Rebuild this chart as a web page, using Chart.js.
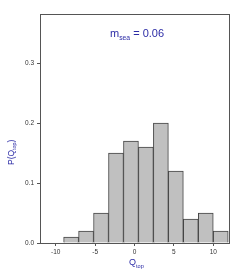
<!DOCTYPE html>
<html>
<head>
<meta charset="utf-8">
<script src="https://cdn.jsdelivr.net/npm/chart.js@4.4.1/dist/chart.umd.min.js"></script>
<style>
  html, body { margin: 0; padding: 0; background: #fff; }
  #chart { display: block; }
</style>
</head>
<body>
<canvas id="chart" width="240" height="273"></canvas>
<script>
// bin centres of the Q_top histogram (bin width 1.9)
const binCentres = [-8.05, -6.15, -4.25, -2.35, -0.45, 1.45, 3.35, 5.25, 7.15, 9.05, 10.95];
const probabilities = [0.01, 0.02, 0.05, 0.15, 0.17, 0.16, 0.20, 0.12, 0.04, 0.05, 0.02];
const xTicks = [-10, -5, 0, 5, 10];
const yTicks = [0, 0.1, 0.2, 0.3];

const blue = "#2b2ba6";
const axisGrey = "#555";
const font = "'Liberation Sans', Arial, sans-serif";

// draws the box, the annotation and the axis titles with subscripts
const extras = {
  id: "extras",
  afterDraw(chart) {
    const { ctx, chartArea: a } = chart;
    ctx.save();
    ctx.strokeStyle = axisGrey;
    ctx.lineWidth = 1;
    ctx.strokeRect(a.left + 0.5, a.top + 0.5, a.right - a.left, a.bottom - a.top);

    ctx.fillStyle = blue;
    ctx.textBaseline = "alphabetic";
    const sub = (x, y, main, small, rest, size) => {
      ctx.font = `${size}px ${font}`;
      ctx.fillText(main, x, y);
      x += ctx.measureText(main).width;
      ctx.font = `${size * 0.62}px ${font}`;
      ctx.fillText(small, x, y + size * 0.28);
      x += ctx.measureText(small).width;
      ctx.font = `${size}px ${font}`;
      ctx.fillText(rest, x, y);
    };
    sub(110, 37, "m", "sea", " = 0.06", 11);
    sub(129, 265, "Q", "top", "", 9);

    ctx.translate(14, 165);
    ctx.rotate(-Math.PI / 2);
    sub(0, 0, "P(Q", "top", ")", 8.5);
    ctx.restore();
  }
};

new Chart(document.getElementById("chart"), {
  type: "bar",
  data: {
    datasets: [{
      data: binCentres.map((x, i) => ({ x, y: probabilities[i] })),
      backgroundColor: "#c0c0c0",
      borderColor: "#444",
      borderWidth: 1,
      barPercentage: 1,
      categoryPercentage: 1
    }]
  },
  options: {
    responsive: false,
    animation: false,
    layout: { padding: { top: 14, right: 11, left: 0, bottom: 0 } },
    plugins: { legend: { display: false }, tooltip: { enabled: false } },
    scales: {
      x: {
        type: "linear",
        offset: false,
        min: -12,
        max: 12,
        afterBuildTicks: (s) => { s.ticks = xTicks.map((value) => ({ value })); },
        afterFit: (s) => { s.height = 30; },
        grid: { drawOnChartArea: false, offset: false, tickLength: 3, color: axisGrey },
        border: { color: axisGrey },
        ticks: { font: { size: 6.5, family: font }, color: "#333", padding: 2, maxRotation: 0 }
      },
      y: {
        min: 0,
        max: 0.382,
        afterBuildTicks: (s) => { s.ticks = yTicks.map((value) => ({ value })); },
        afterFit: (s) => { s.width = 40; },
        grid: { drawOnChartArea: false, tickLength: 3, color: axisGrey },
        border: { color: axisGrey },
        ticks: { font: { size: 6.5, family: font }, color: "#333", padding: 3, callback: (v) => v.toFixed(1) }
      }
    }
  },
  plugins: [extras]
});
</script>
</body>
</html>
